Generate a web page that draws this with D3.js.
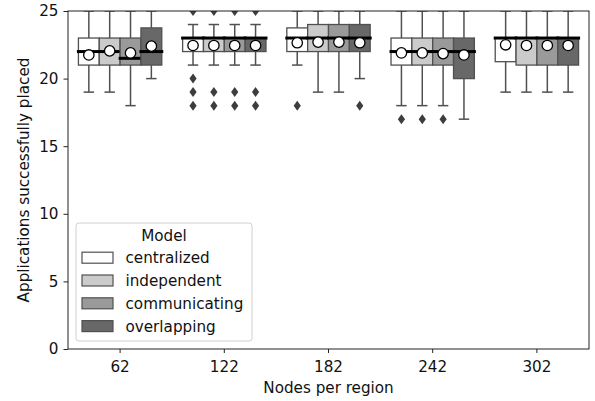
<!DOCTYPE html>
<html>
<head>
<meta charset="utf-8">
<script src="https://cdn.jsdelivr.net/npm/d3@7"></script>
<style>
  html, body { margin: 0; padding: 0; background: #fff; }
  svg { display: block; font-family: "DejaVu Sans", sans-serif; }
</style>
</head>
<body>
<svg id="chart" width="595" height="401"></svg>
<script>
// Categories on the x axis and the hue groups inside each
const nodes = [62, 122, 182, 242, 302];
const models = ["centralized", "independent", "communicating", "overlapping"];
const fills = ["#ffffff", "#cbcbcb", "#9a9a9a", "#686868"];
const yTicks = [0, 5, 10, 15, 20, 25];

// Box statistics per model, one entry per node count
const centralizedQ1 = [21, 22, 22, 21, 21.25];
const centralizedMed = [22, 23, 23, 22, 23];
const centralizedQ3 = [23, 23, 23.75, 23, 23];
const centralizedLo = [19, 21, 21, 18, 19];
const centralizedHi = [25, 24, 25, 25, 25];
const centralizedMean = [21.75, 22.45, 22.65, 21.9, 22.5];
const centralizedOut = [[], [25, 20, 19, 18], [18], [17], []];

const independentQ1 = [21, 22, 22, 21, 21];
const independentMed = [22, 23, 23, 22, 23];
const independentQ3 = [23, 23, 24, 23, 23];
const independentLo = [19, 21, 19, 18, 19];
const independentHi = [25, 24, 25, 25, 25];
const independentMean = [22.05, 22.45, 22.7, 21.9, 22.45];
const independentOut = [[], [25, 19, 18], [], [17], []];

const communicatingQ1 = [21, 22, 22, 21, 21];
const communicatingMed = [21.5, 23, 23, 22, 23];
const communicatingQ3 = [23, 23, 24, 23, 23];
const communicatingLo = [18, 21, 19, 18, 19];
const communicatingHi = [25, 24, 25, 25, 25];
const communicatingMean = [21.9, 22.45, 22.7, 21.85, 22.45];
const communicatingOut = [[], [25, 19, 18], [], [17], []];

const overlappingQ1 = [21, 22, 22, 20, 21];
const overlappingMed = [22, 23, 23, 22, 23];
const overlappingQ3 = [23.75, 23, 24, 23, 23];
const overlappingLo = [20, 21, 20, 17, 19];
const overlappingHi = [25, 24, 25, 25, 25];
const overlappingMean = [22.4, 22.45, 22.65, 21.75, 22.45];
const overlappingOut = [[], [25, 19, 18], [18], [], []];

const stats = {
  centralized: [centralizedQ1, centralizedMed, centralizedQ3, centralizedLo, centralizedHi, centralizedMean, centralizedOut],
  independent: [independentQ1, independentMed, independentQ3, independentLo, independentHi, independentMean, independentOut],
  communicating: [communicatingQ1, communicatingMed, communicatingQ3, communicatingLo, communicatingHi, communicatingMean, communicatingOut],
  overlapping: [overlappingQ1, overlappingMed, overlappingQ3, overlappingLo, overlappingHi, overlappingMean, overlappingOut]
};

const boxes = [];
models.forEach((m, mi) => {
  const [q1, med, q3, lo, hi, mean, out] = stats[m];
  nodes.forEach((n, i) => {
    boxes.push({ node: n, model: m, mi, q1: q1[i], med: med[i], q3: q3[i], lo: lo[i], hi: hi[i], mean: mean[i], out: out[i] });
  });
});

const margin = { left: 68, right: 6, top: 11, bottom: 52 };
const W = 595, H = 401;
const svg = d3.select("#chart");

const x = d3.scaleBand().domain(nodes).range([margin.left, W - margin.right]).paddingInner(0).paddingOuter(0);
const hue = d3.scaleBand().domain(models).range([0, x.bandwidth() * 0.8]);
const y = d3.scaleLinear().domain([0, 25]).range([H - margin.bottom, margin.top]);

const fontSize = 15.2;
const whiskColor = "#505050";

svg.append("defs").append("clipPath").attr("id", "plotclip")
  .append("rect")
  .attr("x", margin.left).attr("y", margin.top)
  .attr("width", W - margin.right - margin.left)
  .attr("height", H - margin.bottom - margin.top);

const plot = svg.append("g").attr("clip-path", "url(#plotclip)");

const bx = d => x(d.node) + x.bandwidth() * 0.1 + hue(d.model);
const bw = hue.bandwidth();

const g = plot.selectAll("g.box").data(boxes).join("g").attr("class", "box");

// whiskers
g.append("line")
  .attr("x1", d => bx(d) + bw / 2).attr("x2", d => bx(d) + bw / 2)
  .attr("y1", d => y(d.q3)).attr("y2", d => y(d.hi))
  .attr("stroke", whiskColor).attr("stroke-width", 1.5);
g.append("line")
  .attr("x1", d => bx(d) + bw / 2).attr("x2", d => bx(d) + bw / 2)
  .attr("y1", d => y(d.q1)).attr("y2", d => y(d.lo))
  .attr("stroke", whiskColor).attr("stroke-width", 1.5);
// caps
["hi", "lo"].forEach(k => {
  g.append("line")
    .attr("x1", d => bx(d) + bw / 4).attr("x2", d => bx(d) + bw * 3 / 4)
    .attr("y1", d => y(d[k])).attr("y2", d => y(d[k]))
    .attr("stroke", whiskColor).attr("stroke-width", 1.5);
});

// boxes
g.append("rect")
  .attr("x", d => bx(d)).attr("width", bw)
  .attr("y", d => y(d.q3)).attr("height", d => y(d.q1) - y(d.q3))
  .attr("fill", d => fills[d.mi])
  .attr("stroke", whiskColor).attr("stroke-width", 1.3);

// outliers
g.each(function(d) {
  d3.select(this).selectAll("path.out").data(d.out).join("path")
    .attr("class", "out")
    .attr("d", v => {
      const cx = bx(d) + bw / 2, cy = y(v);
      return `M${cx},${cy - 5} L${cx + 3.6},${cy} L${cx},${cy + 5} L${cx - 3.6},${cy} Z`;
    })
    .attr("fill", "#3d3d3d");
});

// medians
g.append("line")
  .attr("x1", d => bx(d) - 1.5).attr("x2", d => bx(d) + bw + 1.5)
  .attr("y1", d => y(d.med)).attr("y2", d => y(d.med))
  .attr("stroke", "#000").attr("stroke-width", 3);

// means
g.append("circle")
  .attr("cx", d => bx(d) + bw / 2).attr("cy", d => y(d.mean))
  .attr("r", 5.2)
  .attr("fill", "#fff").attr("stroke", "#000").attr("stroke-width", 1.3);

// frame
svg.append("rect")
  .attr("x", margin.left).attr("y", margin.top)
  .attr("width", W - margin.right - margin.left)
  .attr("height", H - margin.bottom - margin.top)
  .attr("fill", "none").attr("stroke", "#222").attr("stroke-width", 1);

// axes
const xAxis = svg.append("g")
  .attr("transform", `translate(0,${H - margin.bottom})`)
  .call(d3.axisBottom(x).tickSize(4).tickPadding(8));
const yAxis = svg.append("g")
  .attr("transform", `translate(${margin.left},0)`)
  .call(d3.axisLeft(y).tickValues(yTicks).tickSize(4.5).tickPadding(5));
[xAxis, yAxis].forEach(a => {
  a.select(".domain").remove();
  a.selectAll(".tick line").attr("stroke", "#222");
  a.selectAll(".tick text").attr("fill", "#111").style("font-size", fontSize + "px")
    .style("font-family", "DejaVu Sans, sans-serif");
});

svg.append("text")
  .attr("x", (margin.left + W - margin.right) / 2).attr("y", 392.5)
  .attr("text-anchor", "middle").attr("fill", "#111")
  .style("font-size", fontSize + "px")
  .text("Nodes per region");
svg.append("text")
  .attr("transform", `translate(28.5,${(margin.top + H - margin.bottom) / 2}) rotate(-90)`)
  .attr("text-anchor", "middle").attr("fill", "#111")
  .style("font-size", fontSize + "px")
  .text("Applications successfully placed");

// legend
const lg = svg.append("g").attr("transform", "translate(76,223)");
lg.append("rect").attr("width", 176).attr("height", 118).attr("rx", 3)
  .attr("fill", "#fff").attr("fill-opacity", 0.8)
  .attr("stroke", "#d0d0d0").attr("stroke-width", 1);
lg.append("text").attr("x", 88).attr("y", 17.5)
  .attr("text-anchor", "middle").attr("fill", "#111")
  .style("font-size", fontSize + "px").text("Model");
const items = lg.selectAll("g.item").data(models).join("g")
  .attr("class", "item")
  .attr("transform", (d, i) => `translate(0,${34.7 + i * 22.8})`);
items.append("rect").attr("x", 6).attr("y", -5.5).attr("width", 31).attr("height", 11)
  .attr("fill", (d, i) => fills[i]).attr("stroke", whiskColor).attr("stroke-width", 1.2);
items.append("text").attr("x", 49.5).attr("y", 5.5)
  .attr("fill", "#111").style("font-size", fontSize + "px").text(d => d);
</script>
</body>
</html>
